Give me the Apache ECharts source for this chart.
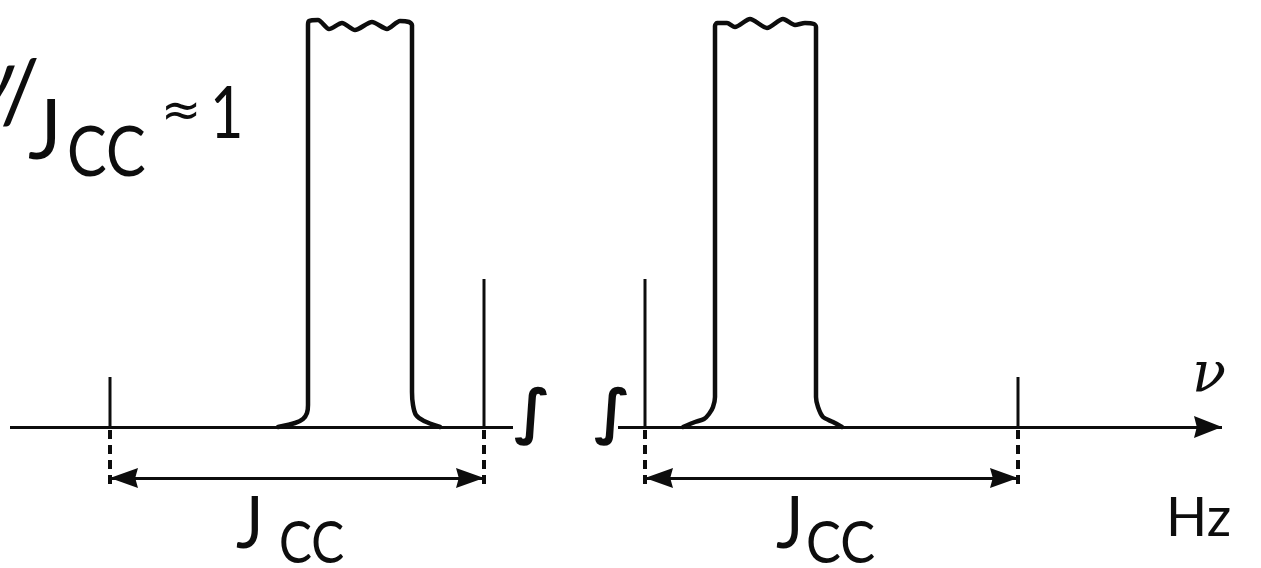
<!DOCTYPE html>
<html><head><meta charset="utf-8">
<script src="https://cdn.jsdelivr.net/npm/echarts@6/dist/echarts.min.js"></script>
<style>html,body{margin:0;padding:0;background:#fff}#c{width:1261px;height:568px}</style>
</head><body><div id="c"></div>
<script>
// Frequency axis in arbitrary Hz units, intensity in arbitrary units
const leftSatellites = [[11.0, 5.0], [48.4, 14.8]];
const rightSatellites = [[64.5, 14.8], [101.8, 5.0]];
const leftCentralPeak = [[27.8,0],[29.5,0.4],[30.3,0.8],[30.7,1.4],[30.8,2.2],[30.8,3.5],[30.8,40.2],[30.9,40.6],[31.8,40.7],[32.9,39.8],[34.2,40.4],[35.5,39.7],[37.2,40.5],[38.7,39.8],[40.0,40.6],[40.9,40.5],[41.2,40.2],[41.2,3.5],[41.3,2.2],[41.6,1.2],[42.4,0.6],[44.0,0]];
const rightCentralPeak = [[68.3,0],[69.5,0.5],[70.4,0.8],[70.9,1.3],[71.3,2.0],[71.5,3.0],[71.5,40.1],[71.7,40.4],[72.7,40.4],[73.5,40.0],[75.0,40.8],[76.7,39.9],[78.3,40.8],[79.5,40.2],[80.5,40.4],[81.4,40.3],[81.6,40.0],[81.6,3.0],[81.8,2.0],[82.3,1.0],[83.3,0.5],[84.2,0]];
const leftBaseline = [1.0, 51.3];
const rightBaseline = [61.8, 122.2];
const dashRange = [-0.3, -6.1];
const couplingArrowY = -5.1;

const K = '#0d0d0d';
const TRI = 'path://M5,0 L10,10 L5,9 L0,10 Z';
const chart = echarts.init(document.getElementById('c'), null, {renderer:'canvas'});
const sticks = leftSatellites.concat(rightSatellites).map(p => ({
  type:'line', data:[[p[0],0],[p[0],p[1]]], showSymbol:false, silent:true,
  lineStyle:{color:K, width:3}
}));
const peak = d => ({type:'line', data:d, showSymbol:false, smooth:0.25, silent:true,
  lineStyle:{color:K, width:4.5, join:'round', cap:'round'}});
const seg = (a,b) => [{coord:a},{coord:b}];
const allSat = leftSatellites.concat(rightSatellites);
const ml = (symbol, style, data, size) => ({type:'line', data:[], silent:true,
  markLine:{silent:true, animation:false, label:{show:false}, symbol:symbol, symbolSize:size||[18,26],
    symbolOffset:[[0,'50%'],[0,'50%']],
    itemStyle:{color:K, borderColor:K, borderWidth:1},
    lineStyle:Object.assign({color:K, width:3, type:'solid'}, style), data:data}});
const F = '"Lato", "DejaVu Sans", sans-serif';
chart.setOption({
  animation:false,
  backgroundColor:'#fff',
  grid:{left:0,right:0,top:0,bottom:0},
  xAxis:{type:'value',min:0,max:126.1,show:false},
  yAxis:{type:'value',min:-14.1,max:42.7,show:false},
  series:[
    peak(leftCentralPeak), peak(rightCentralPeak), ...sticks,
    ml(['none','none'], {}, [ seg([leftBaseline[0],0],[leftBaseline[1],0]) ]),
    ml(['none',TRI], {}, [ seg([rightBaseline[0],0],[rightBaseline[1],0]) ], [22,28]),
    ml(['none','none'], {width:4, type:[9,6]}, allSat.map(p => seg([p[0],dashRange[0]],[p[0],dashRange[1]]))),
    ml([TRI,TRI], {}, [ seg([leftSatellites[0][0],couplingArrowY],[leftSatellites[1][0],couplingArrowY]),
               seg([rightSatellites[0][0],couplingArrowY],[rightSatellites[1][0],couplingArrowY]) ], [20,28])
  ],
  graphic:[
    {type:'text', left:-24, top:40, style:{text:'ν', font:'italic 80px ' + F, fill:K}},
    {type:'text', left:0, top:50, style:{text:'/', font:'88px ' + F, fill:K}},
    {type:'text', left:28, top:90, scaleX:0.95, style:{text:'J', font:'84px ' + F, fill:K}},
    {type:'text', left:67, top:118, scaleX:0.85, style:{text:'CC', font:'70px ' + F, fill:K}},
    {type:'text', left:161, top:90, style:{text:'≈', font:'48px "DejaVu Sans"', fill:K}},
    {type:'text', left:210, top:79, scaleX:0.8, style:{text:'1', font:'72px ' + F, fill:K}},
    {type:'text', left:514, top:386, style:{text:'∫', font:'bold 60px "DejaVu Sans"', fill:K}},
    {type:'text', left:594, top:386, style:{text:'∫', font:'bold 60px "DejaVu Sans"', fill:K}},
    {type:'text', left:236, top:489, scaleX:0.9, style:{text:'J', font:'72px ' + F, fill:K}},
    {type:'text', left:279, top:515, scaleX:0.85, style:{text:'CC', font:'58px ' + F, fill:K}},
    {type:'text', left:776, top:489, scaleX:0.9, style:{text:'J', font:'72px ' + F, fill:K}},
    {type:'text', left:806, top:515, scaleX:0.9, style:{text:'CC', font:'58px ' + F, fill:K}},
    {type:'text', left:1166, top:492, style:{text:'Hz', font:'54px ' + F, fill:K}},
    {type:'text', left:1192, top:348, style:{text:'ν', font:'italic 56px "DejaVu Serif"', fill:K}}
  ]
});
</script></body></html>
